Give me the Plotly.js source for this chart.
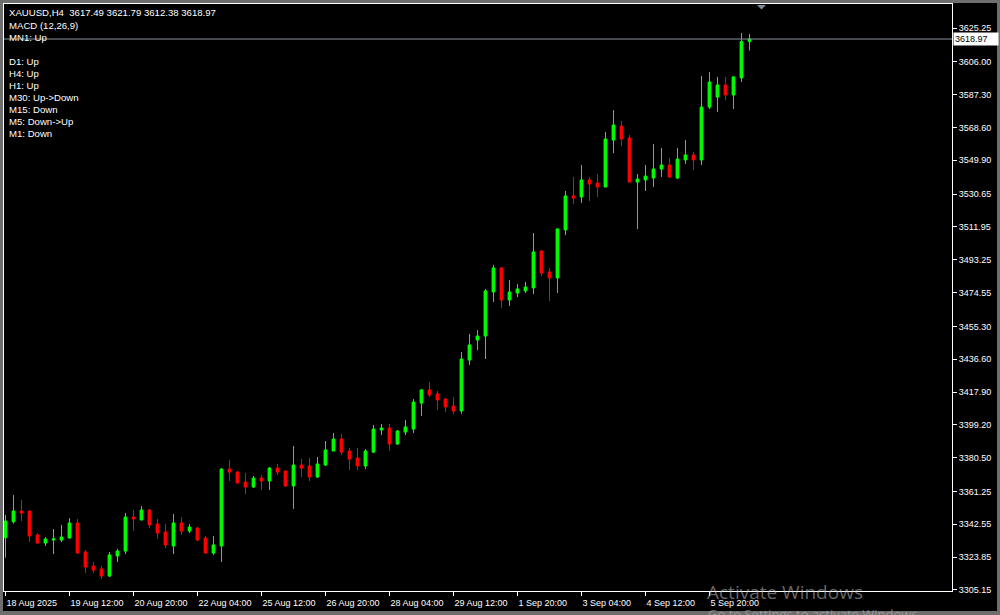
<!DOCTYPE html>
<html>
<head>
<meta charset="utf-8">
<script src="https://cdn.plot.ly/plotly-3.0.1.min.js"></script>
<style>
html,body{margin:0;padding:0;background:#000;}
#chart{width:1000px;height:615px;}
</style>
</head>
<body>
<div id="chart"></div>
<script>
// ---- data (XAUUSD H4) ----
const opens = [3334.9,3344.0,3350.1,3350.1,3336.5,3331.9,3333.6,3333.6,3334.75,3343.3,
3326.8,3318.8,3317.1,3313.1,3324.5,3327.3,3346.7,3345.0,3350.7,3342.7,
3338.2,3330.2,3343.3,3338.7,3340.4,3334.7,3326.2,3330.2,3374.0,3372.3,
3366.6,3363.8,3368.9,3367.2,3374.6,3372.9,3364.4,3376.3,3375.8,3369.5,
3376.3,3384.3,3391.1,3384.3,3380.3,3375.8,3383.7,3396.3,3397.4,3388.3,
3395.1,3396.8,3411.6,3419.1,3416.8,3413.9,3409.9,3407.1,3436.1,3447.5,
3449.8,3474.9,3488.6,3470.3,3474.3,3475.5,3477.2,3498.2,3486.3,3482.9,
3510.2,3529.6,3529.0,3538.7,3536.9,3534.7,3561.4,3569.4,3562.6,3537.5,
3538.7,3539.8,3544.9,3547.2,3539.8,3550.1,3552.9,3550.1,3580.2,3585.9,
3592.8,3587.1,3596.8,3617.49];
const highs = [3347.9,3359.2,3356.4,3350.4,3337.6,3335.3,3339.9,3342.2,3346.1,3345.6,
3327.9,3321.1,3318.8,3326.8,3328.5,3349.0,3350.7,3353.0,3351.3,3345.6,
3342.7,3348.4,3346.7,3342.7,3341.0,3335.9,3335.9,3374.6,3379.2,3372.9,
3371.8,3370.1,3370.6,3375.2,3376.9,3372.9,3387.2,3379.8,3380.3,3380.9,
3390.0,3394.6,3394.0,3386.0,3386.0,3385.4,3399.1,3399.7,3399.7,3396.3,
3402.0,3413.9,3419.6,3423.6,3418.5,3414.5,3415.1,3440.7,3451.0,3453.2,
3476.6,3490.3,3488.9,3481.7,3479.4,3480.6,3508.5,3498.8,3488.6,3511.0,
3532.4,3540.4,3547.2,3540.4,3542.1,3566.0,3578.5,3572.3,3564.3,3542.1,
3547.2,3559.2,3556.9,3551.2,3556.9,3561.4,3554.6,3597.9,3600.2,3597.4,
3597.4,3597.6,3622.4,3621.79];
const lows = [3323.5,3342.9,3344.4,3332.5,3331.5,3330.2,3325.6,3332.5,3334.5,3325.8,
3314.8,3314.8,3311.4,3312.5,3321.1,3325.6,3338.7,3345.0,3340.4,3334.2,
3329.1,3325.6,3336.5,3337.6,3333.0,3326.0,3325.1,3321.1,3367.2,3365.9,
3359.8,3363.2,3362.1,3362.1,3370.6,3363.8,3351.3,3369.5,3367.2,3368.9,
3375.8,3384.3,3382.0,3373.5,3373.5,3374.0,3383.1,3393.4,3384.3,3387.7,
3393.4,3394.6,3404.2,3415.1,3407.7,3406.5,3405.4,3405.5,3433.3,3441.8,
3436.7,3469.2,3465.8,3466.9,3472.0,3474.3,3473.7,3484.0,3469.8,3474.3,
3507.3,3525.0,3525.6,3526.7,3529.0,3534.5,3554.0,3558.0,3537.3,3510.7,
3532.4,3534.7,3540.4,3539.8,3539.2,3547.8,3544.4,3547.2,3579.1,3577.4,
3584.2,3579.1,3594.5,3612.38];
const closes = [3344.4,3350.1,3349.0,3335.9,3331.9,3334.2,3334.2,3335.3,3343.3,3326.2,
3318.2,3316.5,3313.1,3325.1,3327.3,3346.7,3345.6,3350.7,3342.2,3337.6,
3330.8,3343.3,3338.7,3341.0,3333.6,3326.2,3330.8,3374.0,3372.3,3366.1,
3363.8,3368.9,3367.2,3374.6,3372.3,3364.4,3376.3,3374.6,3369.5,3376.9,
3384.9,3391.1,3383.7,3379.7,3375.8,3384.3,3396.8,3397.4,3388.3,3395.7,
3398.0,3412.2,3419.1,3416.2,3413.4,3409.4,3407.1,3436.7,3444.7,3449.8,
3475.5,3488.6,3470.3,3474.9,3476.6,3477.7,3497.7,3485.7,3482.9,3510.8,
3529.6,3528.4,3538.7,3536.4,3534.7,3562.0,3570.0,3562.0,3537.5,3539.2,
3540.9,3544.9,3547.2,3540.4,3550.6,3552.9,3550.1,3580.2,3594.5,3592.8,
3587.1,3597.4,3617.49,3618.97];

const xTickBars = [0,8,16,24,32,40,48,56,64,72,80,88];
const xTickLabels = ["18 Aug 2025","19 Aug 12:00","20 Aug 20:00","22 Aug 04:00","25 Aug 12:00",
  "26 Aug 20:00","28 Aug 04:00","29 Aug 12:00","1 Sep 20:00","3 Sep 04:00","4 Sep 12:00","5 Sep 20:00"];
const yTickVals = [3625.25,3606.00,3587.30,3568.60,3549.90,3530.65,3511.95,3493.25,3474.55,
  3455.30,3436.60,3417.90,3399.20,3380.50,3361.25,3342.55,3323.85,3305.15];
const infoLines = ["XAUUSD,H4\u00a0 3617.49 3621.79 3612.38 3618.97","MACD (12,26,9)","MN1: Up","",
  "D1: Up","H4: Up","H1: Up","M30: Up->Down","M15: Down","M5: Down->Up","M1: Down"];
const infoRows = [0,1,2,3,4,5,6,7,8,9,10];
const currentPrice = 3618.97;
const currentPriceText = "3618.97";

// ---- chart ----
const barIdx = opens.map((_, i) => i);
const trace = {
  type: 'candlestick',
  x: barIdx, open: opens, high: highs, low: lows, close: closes,
  increasing: {line: {color: '#00ff00', width: 1}, fillcolor: '#00ff00'},
  decreasing: {line: {color: '#ff0000', width: 1}, fillcolor: '#ff0000'},
  whiskerwidth: 0,
  hoverinfo: 'skip'
};

const M = {l: 4, r: 48, t: 4, b: 24};
const plotW = 1000 - M.l - M.r, plotH = 615 - M.t - M.b;
const px2paperX = p => (p - M.l) / plotW;
const px2paperY = p => (615 - M.b - p) / plotH;

const annotations = [];
const rowY = [12, 25, 37, 49, 61, 73, 85, 97, 109, 121, 133];
infoRows.forEach((r, i) => {
  if (!infoLines[i]) return;
  annotations.push({
    xref: 'paper', yref: 'paper', x: 0, y: 1, xanchor: 'left', yanchor: 'middle',
    xshift: 3, yshift: -(rowY[r] - M.t), showarrow: false, text: infoLines[i],
    font: {family: 'Liberation Sans, Arial, sans-serif', size: 9.6, color: '#ffffff'}
  });
});
annotations.push({
  xref: 'paper', yref: 'y', x: 1, y: currentPrice, xanchor: 'left', yanchor: 'middle',
  xshift: 1, showarrow: false, text: currentPriceText, bgcolor: '#ffffff', width: 42, align: 'left',
  borderpad: 1, font: {family: 'Liberation Sans, Arial, sans-serif', size: 9, color: '#000000'}
});
annotations.push({
  xref: 'paper', yref: 'paper', x: px2paperX(705), y: px2paperY(592), xanchor: 'left', yanchor: 'middle',
  showarrow: false, text: 'Activate Windows',
  font: {family: 'Open Sans, Noto Sans, sans-serif', size: 19, color: 'rgba(190,190,190,0.55)'}
});
annotations.push({
  xref: 'paper', yref: 'paper', x: px2paperX(706), y: px2paperY(614), xanchor: 'left', yanchor: 'middle',
  showarrow: false, text: 'Go to Settings to activate Windows.',
  font: {family: 'Open Sans, Noto Sans, sans-serif', size: 13, color: 'rgba(190,190,190,0.55)'}
});

const frameColor = '#6e6e6e';
const shapes = [
  {type: 'line', xref: 'paper', yref: 'y', x0: 0, x1: 1, y0: currentPrice, y1: currentPrice,
   line: {color: '#8a9099', width: 1}},
  {type: 'path', xref: 'paper', yref: 'paper',
   path: `M ${px2paperX(757)} ${px2paperY(5)} L ${px2paperX(766)} ${px2paperY(5)} L ${px2paperX(761.5)} ${px2paperY(9.5)} Z`,
   fillcolor: '#7f8c99', line: {width: 0}},
  {type: 'rect', xref: 'paper', yref: 'paper', x0: px2paperX(0), x1: px2paperX(3), y0: px2paperY(615), y1: px2paperY(0),
   fillcolor: frameColor, line: {width: 0}},
  {type: 'rect', xref: 'paper', yref: 'paper', x0: px2paperX(0), x1: px2paperX(1000), y0: px2paperY(3), y1: px2paperY(0),
   fillcolor: frameColor, line: {width: 0}},
  {type: 'rect', xref: 'paper', yref: 'paper', x0: px2paperX(997), x1: px2paperX(1000), y0: px2paperY(615), y1: px2paperY(0),
   fillcolor: frameColor, line: {width: 0}},
  {type: 'rect', xref: 'paper', yref: 'paper', x0: px2paperX(0), x1: px2paperX(1000), y0: px2paperY(615), y1: px2paperY(611),
   fillcolor: frameColor, line: {width: 0}}
];

const barPx = 8;
const x0 = -((5.5 - M.l) / barPx);
const x1 = x0 + plotW / barPx;
const pxPerPrice = 1 / 0.5696;
const yTop = 3625.25 + (28 - M.t) / pxPerPrice;
const yBot = yTop - plotH / pxPerPrice;

const tickFont = {family: 'Liberation Sans, Arial, sans-serif', size: 9, color: '#ffffff'};
const layout = {
  width: 1000, height: 615,
  margin: M,
  paper_bgcolor: '#000000', plot_bgcolor: '#000000',
  showlegend: false, hovermode: false, dragmode: false, boxgap: 0.5,
  xaxis: {
    type: 'linear', range: [x0, x1], showgrid: false, zeroline: false,
    showline: true, mirror: true, linecolor: '#ffffff', linewidth: 1,
    tickmode: 'array', tickvals: xTickBars, ticktext: xTickLabels,
    ticks: 'outside', ticklen: 4, tickcolor: '#ffffff', tickwidth: 1,
    ticklabelposition: 'outside right', ticklabelstandoff: 3, tickfont: tickFont,
    rangeslider: {visible: false}, fixedrange: true
  },
  yaxis: {
    type: 'linear', range: [yBot, yTop], side: 'right', showgrid: false, zeroline: false,
    showline: true, mirror: true, linecolor: '#ffffff', linewidth: 1,
    tickmode: 'array', tickvals: yTickVals, ticktext: yTickVals.map(v => v.toFixed(2)),
    ticks: 'outside', ticklen: 4, tickcolor: '#ffffff', tickwidth: 1,
    tickfont: tickFont, fixedrange: true
  },
  annotations: annotations,
  shapes: shapes
};

Plotly.newPlot('chart', [trace], layout, {displayModeBar: false, staticPlot: true});
</script>
</body>
</html>
